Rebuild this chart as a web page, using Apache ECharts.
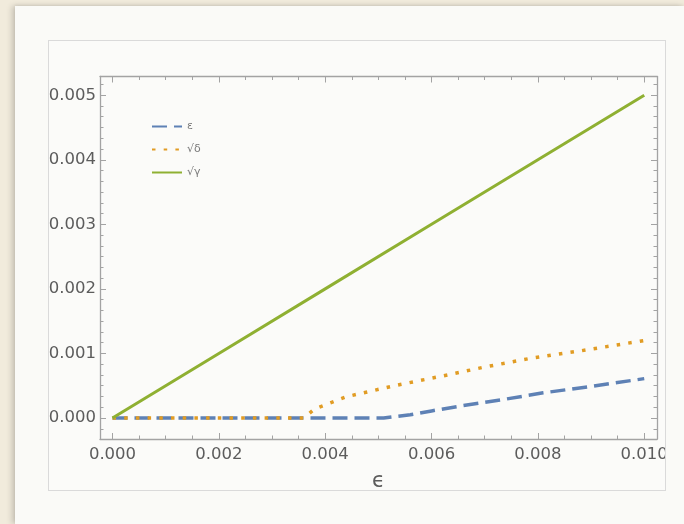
<!DOCTYPE html>
<html>
<head>
<meta charset="utf-8">
<script src="https://cdn.jsdelivr.net/npm/echarts@6/dist/echarts.min.js"></script>
<style>
  html, body { margin: 0; padding: 0; width: 684px; height: 524px; overflow: hidden; background: #f1ebdc; }
  #panel { position: absolute; left: 15px; top: 6px; width: 669px; height: 518px; background: #fafaf7;
           box-shadow: -3px 0 6px rgba(0,0,0,0.18), 0 -1px 3px rgba(0,0,0,0.06); }
  #chart { position: absolute; left: 48px; top: 40px; width: 616px; height: 449px; border: 1px solid #dadada; background: #fbfbf9; }
</style>
</head>
<body>
<div id="panel"></div>
<div id="chart"></div>
<script>
// Curves: error measures against epsilon
const seriesNames = ['ε', '√δ', '√γ'];

const blueX = [0, 0.0051, 0.0056, 0.0060, 0.0065, 0.0073, 0.0081, 0.0090, 0.0100];
const blueY = [0, 0, 0.00005, 0.00011, 0.00018, 0.00028, 0.00039, 0.00049, 0.00061];

const orangeX = [0, 0.0036, 0.0038, 0.0044, 0.0053, 0.0062, 0.0070, 0.0079, 0.0088, 0.0100];
const orangeY = [0, 0, 0.00014, 0.00033, 0.00050, 0.00065, 0.00079, 0.00093, 0.00104, 0.00120];

const greenX = [0, 0.002, 0.004, 0.006, 0.008, 0.010];
const greenY = [0, 0.001, 0.002, 0.003, 0.004, 0.005];

const xLabels = ['0.000', '0.002', '0.004', '0.006', '0.008', '0.010'];
const yLabels = ['0.000', '0.001', '0.002', '0.003', '0.004', '0.005'];

const pairs = (xs, ys) => xs.map((x, i) => [x, ys[i]]);

const frameColor = '#a3a3a3';
const labelColor = '#5c5c5c';
const labelFont = 'DejaVu Sans';

function fmt(list, step) {
  return function (v) {
    const k = Math.round(v / step);
    if (Math.abs(v - k * step) > step * 1e-6) return '';
    return list[k] !== undefined ? list[k] : '';
  };
}

function xAxisDef(pos, showLabels) {
  return {
    type: 'value', position: pos,
    min: -0.000235, max: 0.01024, splitNumber: 5,
    axisLine: { show: true, onZero: false, lineStyle: { color: frameColor, width: 1.3 } },
    axisTick: { show: true, inside: true, length: 6, lineStyle: { color: frameColor, width: 1 } },
    minorTick: { show: true, splitNumber: 4, length: 3.5, lineStyle: { color: frameColor, width: 1 } },
    splitLine: { show: false },
    axisLabel: {
      show: showLabels, margin: 7, showMinLabel: false, showMaxLabel: false, hideOverlap: false,
      color: labelColor, fontFamily: labelFont, fontSize: 16.5,
      formatter: fmt(xLabels, 0.002)
    },
    name: showLabels ? 'ϵ' : '',
    nameLocation: 'middle', nameGap: 32,
    nameTextStyle: { color: labelColor, fontFamily: labelFont, fontSize: 21 }
  };
}

function yAxisDef(pos, showLabels) {
  return {
    type: 'value', position: pos,
    min: -0.000325, max: 0.00529, splitNumber: 5,
    axisLine: { show: true, onZero: false, lineStyle: { color: frameColor, width: 1.3 } },
    axisTick: { show: true, inside: true, length: 6, lineStyle: { color: frameColor, width: 1 } },
    minorTick: { show: true, splitNumber: 6, length: 3.5, lineStyle: { color: frameColor, width: 1 } },
    splitLine: { show: false },
    axisLabel: {
      show: showLabels, margin: 4, showMinLabel: false, showMaxLabel: false, hideOverlap: false,
      color: labelColor, fontFamily: labelFont, fontSize: 16.5,
      formatter: fmt(yLabels, 0.001)
    }
  };
}

const chart = echarts.init(document.getElementById('chart'), null, { renderer: 'canvas' });
chart.setOption({
  animation: false,
  backgroundColor: 'transparent',
  grid: { left: 51, right: 8, top: 35.5, bottom: 51, containLabel: false, outerBoundsMode: 'none' },
  xAxis: [xAxisDef('bottom', true), xAxisDef('top', false)],
  yAxis: [yAxisDef('left', true), yAxisDef('right', false)],
  legend: {
    orient: 'vertical', left: 97, top: 75,
    itemWidth: 30, itemHeight: 12, itemGap: 12,
    itemStyle: { opacity: 0 },
    textStyle: { color: '#7a7a7a', fontFamily: labelFont, fontSize: 11 },
    data: seriesNames
  },
  series: [
    {
      name: seriesNames[0], type: 'line', data: pairs(blueX, blueY),
      symbol: 'none', z: 2,
      lineStyle: { color: '#5e81b5', width: 3.5, type: [15, 7], cap: 'butt' },
      itemStyle: { color: '#5e81b5' }
    },
    {
      name: seriesNames[1], type: 'line', data: pairs(orangeX, orangeY),
      symbol: 'none', z: 3,
      lineStyle: { color: '#e19c24', width: 3.5, type: [3.5, 8.2], cap: 'butt' },
      itemStyle: { color: '#e19c24' }
    },
    {
      name: seriesNames[2], type: 'line', data: pairs(greenX, greenY),
      symbol: 'none', z: 4,
      lineStyle: { color: '#8fb032', width: 3 },
      itemStyle: { color: '#8fb032' }
    }
  ]
});
</script>
</body>
</html>
